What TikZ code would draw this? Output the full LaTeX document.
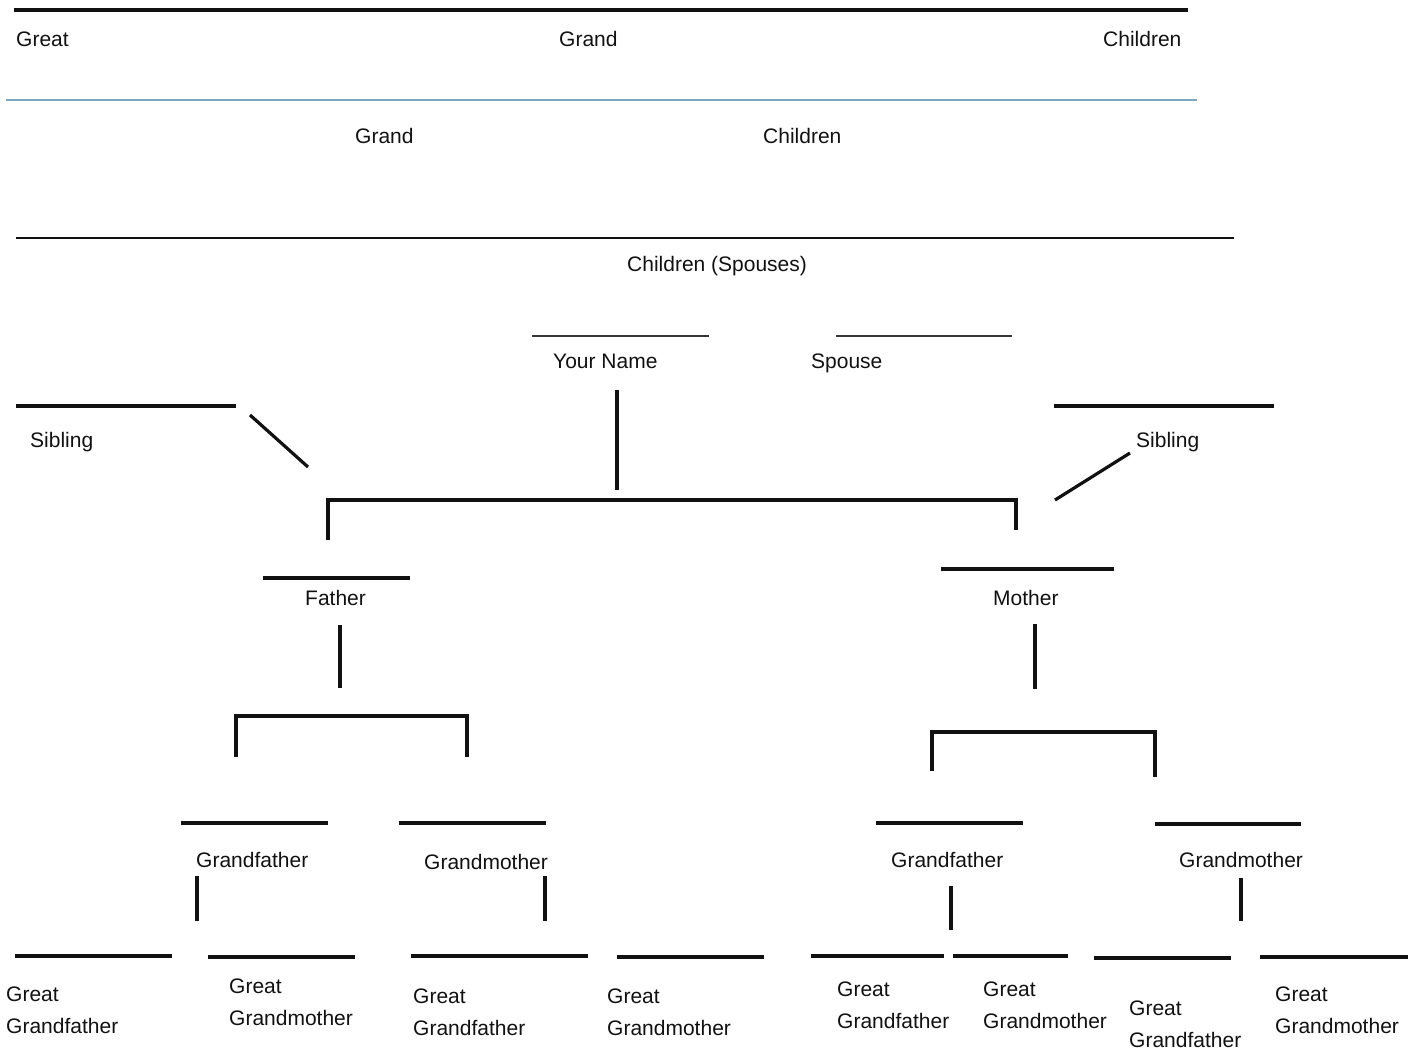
\documentclass[tikz,border=0pt]{standalone}
\usepackage{fontspec}
\setmainfont{Liberation Sans}
\definecolor{ink}{HTML}{111111}
\definecolor{bluel}{HTML}{7DA6C2}
\begin{document}
\begin{tikzpicture}[x=1pt,y=-1pt,
  lbl/.style={anchor=base west,inner sep=0pt,text=ink,font=\fontsize{21}{32}\selectfont,align=left},
  blank/.style={line width=3.4pt,draw=ink},
  thinblank/.style={line width=2.2pt,draw=ink!85},
  conn/.style={line width=3.2pt,draw=ink}]
\useasboundingbox (0,0) rectangle (1423,1049);
% top header
\draw[line width=4pt,draw=ink] (14,10) -- (1188,10);
\node[lbl] (g1) at (16,47) {Great};
\node[lbl] (g2) at (559,47) {Grand};
\node[lbl] (g3) at (1103,47) {Children};
\draw[line width=2.8pt,draw=bluel] (6,100) -- (1197,100);
\node[lbl] (gc1) at (355,143) {Grand};
\node[lbl] (gc2) at (763,143) {Children};
\draw[line width=2.8pt,draw=ink] (16,238) -- (1234,238);
\node[lbl] (cs) at (627,271) {Children (Spouses)};
% you and spouse
\draw[thinblank] (532,336) -- (709,336);
\node[lbl] (you) at (553,368) {Your Name};
\draw[thinblank] (836,336) -- (1012,336);
\node[lbl] (sp) at (811,368) {Spouse};
% siblings
\draw[blank] (16,406) -- (236,406);
\node[lbl] (sibl) at (30,447) {Sibling};
\draw[blank] (1054,406) -- (1274,406);
\node[lbl] (sibr) at (1136,447) {Sibling};
\coordinate (dl1) at (250,415); \coordinate (dl2) at (308,467);
\draw[conn] (dl1) -- (dl2);
\coordinate (dr1) at (1130,453); \coordinate (dr2) at (1055,500);
\draw[conn] (dr1) -- (dr2);
% you to parents
\coordinate (yv1) at (617,390); \coordinate (yv2) at (617,490);
\draw[conn] (yv1) -- (yv2);
\coordinate (pb1) at (328,540); \coordinate (pb2) at (328,500);
\coordinate (pb3) at (1016,500); \coordinate (pb4) at (1016,530);
\draw[conn] (pb1) -- (pb2) -- (pb3) -- (pb4);
% father
\draw[blank] (263,578) -- (410,578);
\node[lbl] (fa) at (305,605) {Father};
\coordinate (fv1) at (340,625); \coordinate (fv2) at (340,688);
\draw[conn] (fv1) -- (fv2);
\coordinate (fb1) at (236,757); \coordinate (fb2) at (236,716);
\coordinate (fb3) at (467,716); \coordinate (fb4) at (467,757);
\draw[conn] (fb1) -- (fb2) -- (fb3) -- (fb4);
% mother
\draw[blank] (941,569) -- (1114,569);
\node[lbl] (mo) at (993,605) {Mother};
\coordinate (mv1) at (1035,624); \coordinate (mv2) at (1035,689);
\draw[conn] (mv1) -- (mv2);
\coordinate (mb1) at (932,771); \coordinate (mb2) at (932,732);
\coordinate (mb3) at (1155,732); \coordinate (mb4) at (1155,777);
\draw[conn] (mb1) -- (mb2) -- (mb3) -- (mb4);
% grandparents
\draw[blank] (181,823) -- (328,823);
\node[lbl] (gf1) at (196,867) {Grandfather};
\draw[blank] (399,823) -- (546,823);
\node[lbl] (gm1) at (424,869) {Grandmother};
\draw[blank] (876,823) -- (1023,823);
\node[lbl] (gf2) at (891,867) {Grandfather};
\draw[blank] (1155,824) -- (1301,824);
\node[lbl] (gm2) at (1179,867) {Grandmother};
\coordinate (v1a) at (197,876); \coordinate (v1b) at (197,921);
\draw[conn] (v1a) -- (v1b);
\coordinate (v2a) at (545,876); \coordinate (v2b) at (545,921);
\draw[conn] (v2a) -- (v2b);
\coordinate (v3a) at (951,886); \coordinate (v3b) at (951,930);
\draw[conn] (v3a) -- (v3b);
\coordinate (v4a) at (1241,878); \coordinate (v4b) at (1241,921);
\draw[conn] (v4a) -- (v4b);
% great grandparents
\draw[blank] (15,956) -- (172,956);
\node[lbl] (gg1) at (6,1033) {Great\\Grandfather};
\draw[blank] (208,957) -- (355,957);
\node[lbl] (gg2) at (229,1025) {Great\\Grandmother};
\draw[blank] (411,956) -- (588,956);
\node[lbl] (gg3) at (413,1035) {Great\\Grandfather};
\draw[blank] (617,957) -- (764,957);
\node[lbl] (gg4) at (607,1035) {Great\\Grandmother};
\draw[blank] (811,956) -- (944,956);
\node[lbl] (gg5) at (837,1028) {Great\\Grandfather};
\draw[blank] (953,956) -- (1068,956);
\node[lbl] (gg6) at (983,1028) {Great\\Grandmother};
\draw[blank] (1094,958) -- (1231,958);
\node[lbl] (gg7) at (1129,1047) {Great\\Grandfather};
\draw[blank] (1260,957) -- (1408,957);
\node[lbl] (gg8) at (1275,1033) {Great\\Grandmother};
\end{tikzpicture}
\end{document}
